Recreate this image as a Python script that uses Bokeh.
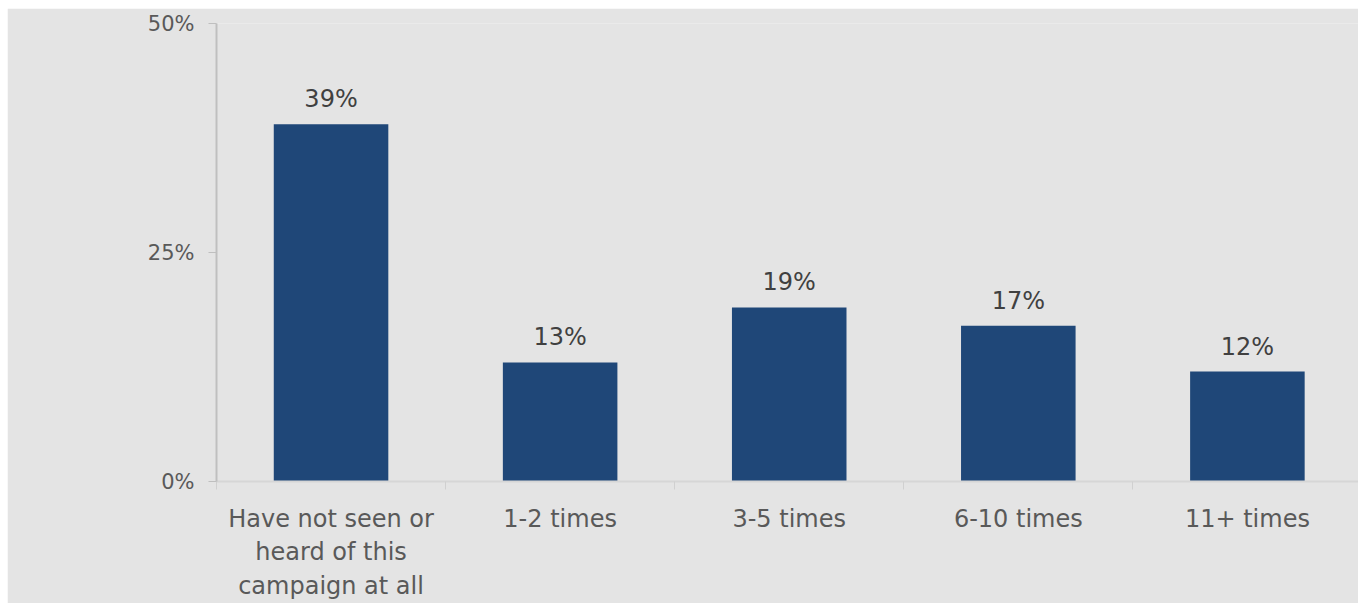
from bokeh.plotting import figure
from bokeh.models import ColumnDataSource, Range1d, FixedTicker, LabelSet
from bokeh.core.properties import value
from bokeh.embed import file_html
from bokeh.resources import INLINE

# Campaign exposure frequency (share of respondents, %)
categories = ["Have not seen or\nheard of this\ncampaign at all", "1-2 times", "3-5 times", "6-10 times", "11+ times"]
values = [39, 13, 19, 17, 12]
y_ticks = [0, 25, 50]
y_tick_labels = ["0%", "25%", "50%"]

FONT = "DejaVu Sans"
BAR = "#1f4778"
BG = "#e4e4e4"

positions = [i + 0.5 for i in range(len(categories))]
src = ColumnDataSource(dict(
    x=positions,
    top=values,
    label=[f"{v}%" for v in values],
))

p = figure(
    width=1351, height=595,
    x_range=Range1d(0, 4.985), y_range=Range1d(0, 50),
    output_backend="svg", toolbar_location=None,
    background_fill_color=BG, border_fill_color=BG,
    outline_line_color=None,
    min_border_left=209, min_border_right=0,
    min_border_top=15, min_border_bottom=122,
    margin=(8, 0, 0, 7),
)

p.vbar(x="x", top="top", width=0.5, bottom=0, source=src,
       fill_color=BAR, line_color=None)

p.add_layout(LabelSet(x="x", y="top", text="label", source=src,
                      text_align="center", text_baseline="alphabetic", y_offset=17,
                      text_font=value(FONT), text_font_size="24px", text_color="#404040"))

p.grid.visible = False

# category axis: labels at bar centres, short ticks at the category boundaries
xa = p.xaxis[0]
xa.ticker = FixedTicker(ticks=positions, minor_ticks=list(range(len(categories) + 1)))
xa.major_label_overrides = {pos: c for pos, c in zip(positions, categories)}
xa.major_tick_line_color = None
xa.major_tick_out = 0
xa.major_tick_in = 0
xa.minor_tick_line_color = "#d0d0d0"
xa.minor_tick_out = 8
xa.minor_tick_in = 0
xa.axis_line_color = "#d6d6d6"
xa.axis_line_width = 2
xa.major_label_standoff = 15
xa.major_label_text_font = FONT
xa.major_label_text_font_size = "24px"
xa.major_label_text_color = "#595959"

ya = p.yaxis[0]
ya.ticker = FixedTicker(ticks=y_ticks)
ya.major_label_overrides = {t: s for t, s in zip(y_ticks, y_tick_labels)}
ya.minor_tick_line_color = None
ya.major_tick_line_color = "#bfbfbf"
ya.major_tick_out = 8
ya.major_tick_in = 0
ya.axis_line_color = "#bfbfbf"
ya.axis_line_width = 2
ya.major_label_standoff = 14
ya.major_label_text_font = FONT
ya.major_label_text_font_size = "21px"
ya.major_label_text_color = "#595959"

html = file_html(p, INLINE, title="Campaign exposure")
html = html.replace("<body>", '<body style="margin:0;background:#ffffff;">')
open("out.html", "w").write(html)
